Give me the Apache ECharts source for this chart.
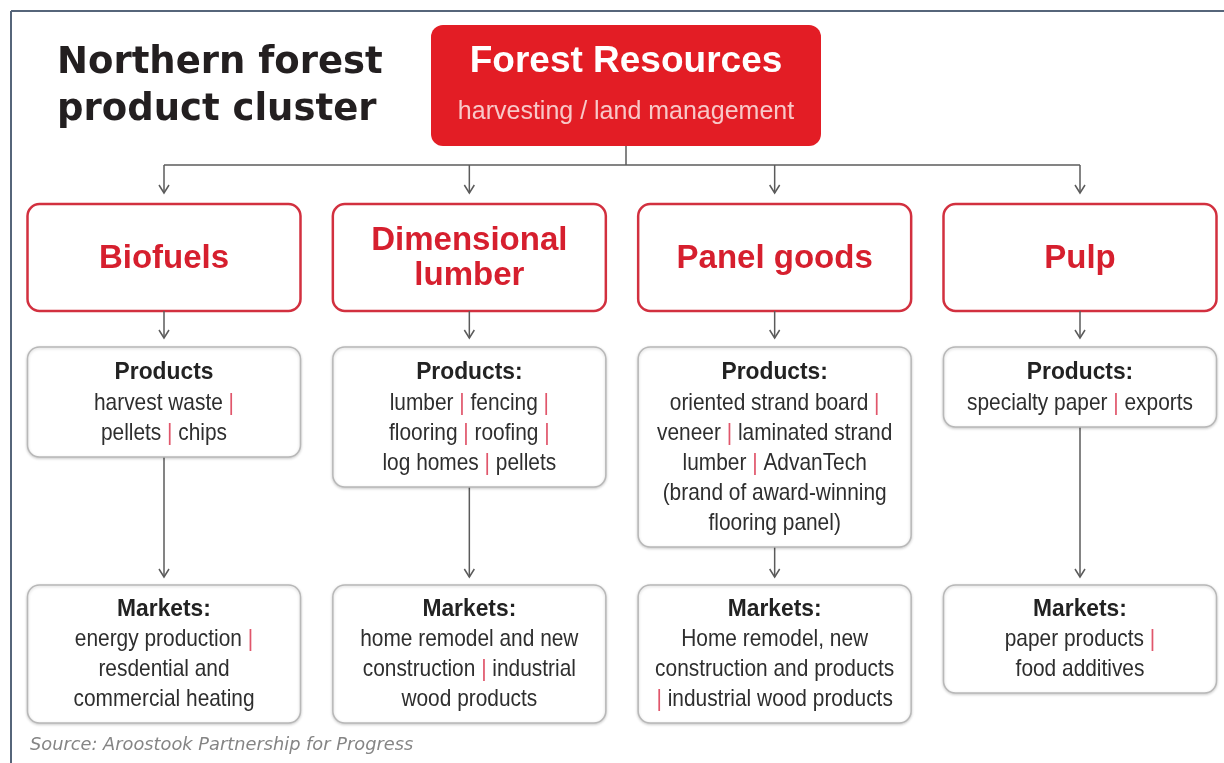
<!DOCTYPE html>
<html>
<head>
<meta charset="utf-8">
<title>Northern forest product cluster</title>
<script src="https://cdn.jsdelivr.net/npm/echarts@6/dist/echarts.min.js"></script>
<style>
  html, body { margin: 0; padding: 0; background: #fff; }
  #chart { width: 1224px; height: 763px; }
</style>
</head>
<body>
<div id="chart"></div>
<script>
// chart content
const rootTitle = 'Forest Resources';
const rootSub = 'harvesting / land management';
const segments = ['Biofuels', 'Dimensional\nlumber', 'Panel goods', 'Pulp'];
const productHeads = ['Products', 'Products:', 'Products:', 'Products:'];
const productLines = [
  ['harvest waste |', 'pellets | chips'],
  ['lumber | fencing |', 'flooring | roofing |', 'log homes | pellets'],
  ['oriented strand board |', 'veneer | laminated strand', 'lumber | AdvanTech', '(brand of award-winning', 'flooring panel)'],
  ['specialty paper | exports']
];
const marketHead = 'Markets:';
const marketLines = [
  ['energy production |', 'resdential and', 'commercial heating'],
  ['home remodel and new', 'construction | industrial', 'wood products'],
  ['Home remodel, new', 'construction and products', '| industrial wood products'],
  ['paper products |', 'food additives']
];

// layout / styles
const RED = '#e31d25';
const SEG_RED = '#d2303f';
const PIPE = '#e0566b';
const WIRE = '#5b5b5b';
const TEXT = '#2e2e2e';
const BOX_W = 273;
const ROOT_TOP = 25, ROOT_H = 121, ROOT_W = 390;
const BUS_Y = 165;
const SEG_TOP = 204, SEG_H = 107;
const PROD_TOP = 347, MKT_TOP = 585;
const LINE_H = 30;
const FONT = '"Liberation Sans", Arial, sans-serif';
const NARROW = 0.87; // squeeze body text, the source uses a condensed face

function arrow(x, y1, y2) {
  return [
    { type: 'line', shape: { x1: x, y1: y1, x2: x, y2: y2 }, style: { stroke: WIRE, lineWidth: 1.5 } },
    { type: 'polyline', shape: { points: [[x - 5, y2 - 8], [x, y2], [x + 5, y2 - 8]] },
      style: { stroke: WIRE, lineWidth: 1.5, fill: null } }
  ];
}

function richLines(lines) {
  return lines.map(l => l.replace(/\|/g, '{p||}')).join('\n');
}

function textBox(cx, top, head, lines, headOff, bodyOff) {
  const h = bodyOff + 24 + LINE_H * (lines.length - 1);
  return {
    h: h,
    children: [
      { type: 'rect', shape: { x: cx - BOX_W / 2, y: top, width: BOX_W, height: h, r: 12 },
        style: { fill: '#fff', stroke: '#b8b8b8', lineWidth: 1.5,
                 shadowBlur: 3, shadowColor: 'rgba(0,0,0,0.18)', shadowOffsetY: 1 } },
      { type: 'text', x: cx, y: top + headOff, scaleX: 0.95,
        style: { text: head, fill: '#222', fontFamily: FONT, fontWeight: 'bold', fontSize: 24,
                 align: 'center', verticalAlign: 'middle' } },
      { type: 'text', x: cx, y: top + bodyOff - LINE_H / 2, scaleX: NARROW,
        style: { text: richLines(lines), fill: TEXT, fontFamily: FONT, fontSize: 24,
                 lineHeight: LINE_H, align: 'center', verticalAlign: 'top',
                 rich: { p: { fill: PIPE, fontFamily: FONT, fontSize: 24, lineHeight: LINE_H } } } }
    ]
  };
}

const chart = echarts.init(document.getElementById('chart'));

chart.setOption({
  backgroundColor: '#fff',
  animation: false,
  title: [
    { text: 'Northern forest\nproduct cluster', left: 57, top: 40, padding: 0,
      textStyle: { fontFamily: '"DejaVu Sans", Verdana, sans-serif', fontWeight: 'bold', fontSize: 37,
                   lineHeight: 47, color: '#231f20' } },
    { text: 'Source: Aroostook Partnership for Progress', left: 30, top: 736, padding: 0,
      textStyle: { fontFamily: '"DejaVu Sans", Verdana, sans-serif', fontStyle: 'italic', fontWeight: 'normal',
                   fontSize: 17.8, color: '#858585' } }
  ],
  graphic: [
    { type: 'line', shape: { x1: 11, y1: 11, x2: 1224, y2: 11 }, style: { stroke: '#56657a', lineWidth: 2 } },
    { type: 'line', shape: { x1: 11, y1: 11, x2: 11, y2: 763 }, style: { stroke: '#56657a', lineWidth: 2 } }
  ],
  grid: { left: 164, right: 144, top: 0, bottom: 0 },
  xAxis: { type: 'category', data: segments, boundaryGap: false, show: false },
  yAxis: { type: 'value', min: 0, max: 763, inverse: true, show: false },
  series: [
    {
      name: 'root', type: 'custom', data: [[1, 0]],
      renderItem: function (params, api) {
        // the root box sits between the 2nd and 3rd column
        const a = api.coord([1, 0]);
        const b = api.coord([2, 0]);
        const cx = (a[0] + b[0]) / 2 + 4;
        const first = api.coord([0, BUS_Y]);
        const last = api.coord([segments.length - 1, BUS_Y]);
        return {
          type: 'group',
          children: [
            { type: 'line', shape: { x1: cx, y1: ROOT_TOP + ROOT_H, x2: cx, y2: BUS_Y },
              style: { stroke: WIRE, lineWidth: 1.5 } },
            { type: 'line', shape: { x1: first[0], y1: BUS_Y, x2: last[0], y2: BUS_Y },
              style: { stroke: WIRE, lineWidth: 1.5 } },
            { type: 'rect', shape: { x: cx - ROOT_W / 2, y: ROOT_TOP, width: ROOT_W, height: ROOT_H, r: 12 },
              style: { fill: RED } },
            { type: 'text', x: cx, y: ROOT_TOP + 37,
              style: { text: rootTitle, fill: '#fff', fontFamily: FONT, fontWeight: 'bold', fontSize: 37,
                       align: 'center', verticalAlign: 'middle' } },
            { type: 'text', x: cx, y: ROOT_TOP + 87,
              style: { text: rootSub, fill: '#f8c8c8', fontFamily: FONT, fontSize: 25,
                       align: 'center', verticalAlign: 'middle' } }
          ]
        };
      }
    },
    {
      name: 'segments', type: 'custom', data: segments.map((s, i) => [i, SEG_TOP]),
      renderItem: function (params, api) {
        const i = api.value(0);
        const c = api.coord([i, SEG_TOP]);
        const cx = c[0];
        return {
          type: 'group',
          children: [
            ...arrow(cx, BUS_Y, SEG_TOP - 11),
            { type: 'rect', shape: { x: cx - BOX_W / 2, y: SEG_TOP, width: BOX_W, height: SEG_H, r: 12 },
              style: { fill: '#fff', stroke: SEG_RED, lineWidth: 2.5 } },
            { type: 'text', x: cx, y: SEG_TOP + SEG_H / 2 + 1,
              style: { text: segments[i], fill: '#d61f2e', fontFamily: FONT, fontWeight: 'bold',
                       fontSize: 33, lineHeight: 35, align: 'center', verticalAlign: 'middle' } },
            ...arrow(cx, SEG_TOP + SEG_H, PROD_TOP - 9)
          ]
        };
      }
    },
    {
      name: 'products', type: 'custom', data: productLines.map((l, i) => [i, PROD_TOP]),
      renderItem: function (params, api) {
        const i = api.value(0);
        const cx = api.coord([i, PROD_TOP])[0];
        const box = textBox(cx, PROD_TOP, productHeads[i], productLines[i], 25, 56);
        return {
          type: 'group',
          children: [...arrow(cx, PROD_TOP + box.h, MKT_TOP - 8), ...box.children]
        };
      }
    },
    {
      name: 'markets', type: 'custom', data: marketLines.map((l, i) => [i, MKT_TOP]),
      renderItem: function (params, api) {
        const i = api.value(0);
        const cx = api.coord([i, MKT_TOP])[0];
        const box = textBox(cx, MKT_TOP, marketHead, marketLines[i], 24, 54);
        return { type: 'group', children: box.children };
      }
    }
  ]
});
</script>
</body>
</html>
